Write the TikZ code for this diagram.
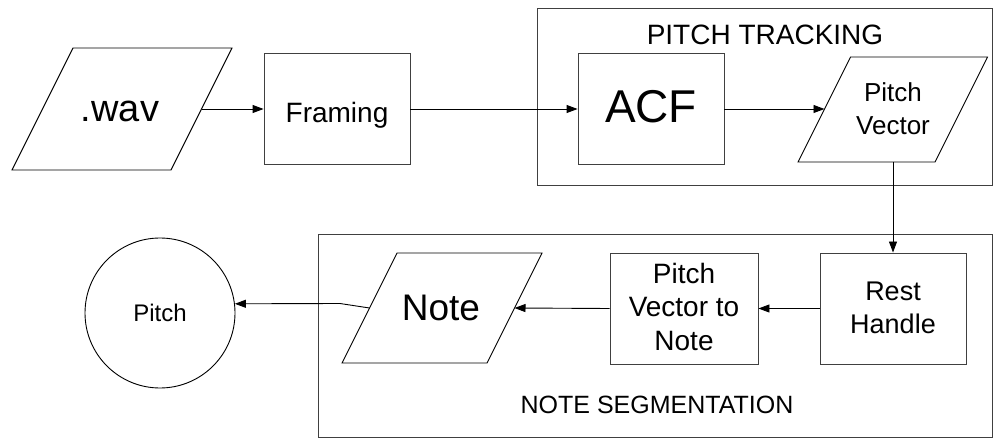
\documentclass[tikz,border=0pt]{standalone}
\usepackage{fontspec}
\setmainfont{Liberation Sans}
\usetikzlibrary{arrows.meta}
\begin{document}
\begin{tikzpicture}[x=1pt,y=-1pt,line width=0.9pt,
  box/.style={draw=black!75,rectangle,inner sep=0pt,minimum width=146pt,minimum height=111pt},
  frame/.style={draw=black!75,rectangle,inner sep=0pt},
  para/.style={draw=black,line join=miter},
  txt/.style={inner sep=0pt,align=center},
  arr/.style={-{Triangle[length=11pt,width=8pt]},draw=black}]
\useasboundingbox[fill=white] (0,0) rectangle (993,438);

% containers
\node[frame,minimum width=455pt,minimum height=177pt] (ptbox) at (764.5,96.5) {};
\node[frame,minimum width=674pt,minimum height=203pt] (nsbox) at (655,335.5) {};
\node[txt,anchor=base,font=\fontsize{28}{33}\selectfont] (pttitle) at (765,45) {PITCH TRACKING};
\node[txt,anchor=base,font=\fontsize{25}{30}\selectfont] (nstitle) at (657,413) {NOTE SEGMENTATION};

% .wav parallelogram
\draw[para] (12,170) -- (171,170) -- (232,48) -- (73,48) -- cycle;
\coordinate (wavout) at (201.5,109);
\node[txt,anchor=base,font=\fontsize{38}{44}\selectfont] (wav) at (120,122) {.wav};

% rectangles
\node[box] (framing) at (337,109) {};
\node[txt,anchor=base,font=\fontsize{28}{33}\selectfont] (framingt) at (337,123) {Framing};
\node[box] (acf) at (651,109) {};
\node[txt,anchor=base,font=\fontsize{46}{54}\selectfont] (acft) at (651,123) {ACF};

% pitch vector parallelogram
\draw[para] (798,162) -- (935,162) -- (987.5,57) -- (850.5,57) -- cycle;
\coordinate (pvin) at (824.5,109);
\coordinate (pvout) at (893,162);
\node[txt,font=\fontsize{26}{33}\selectfont] (pvt) at (893,108.5) {Pitch\\Vector};

% bottom row
\node[box] (rest) at (893,308.5) {};
\node[txt,font=\fontsize{27}{33}\selectfont] (restt) at (893,307.5) {Rest\\Handle};
\node[box,minimum width=148pt] (pvtn) at (684,308.5) {};
\node[txt,font=\fontsize{28}{33.5}\selectfont] (pvtnt) at (684,306.5) {Pitch\\Vector to\\Note};

\draw[para] (342,363) -- (487,363) -- (542,253) -- (397,253) -- cycle;
\coordinate (notein) at (514.5,308);
\coordinate (noteout) at (369.5,308);
\coordinate (bend) at (340,303.5);
\node[txt,anchor=base,font=\fontsize{37}{44}\selectfont] (notet) at (441,320) {Note};

\node[draw=black,circle,minimum size=150pt,inner sep=0pt,font=\fontsize{24}{28}\selectfont] (pitch) at (160,313) {Pitch};

% connectors
\draw[arr] (wavout) -- (framing.west);
\draw[arr] (framing.east) -- (acf.west);
\draw[arr] (acf.east) -- (pvin);
\draw[arr] (pvout) -- (rest.north);
\draw[arr] (rest.west) -- (pvtn.east);
\draw[arr] (pvtn.west) -- (notein);
\draw[arr] (noteout) -- (bend) -- (pitch.7);
\end{tikzpicture}
\end{document}
